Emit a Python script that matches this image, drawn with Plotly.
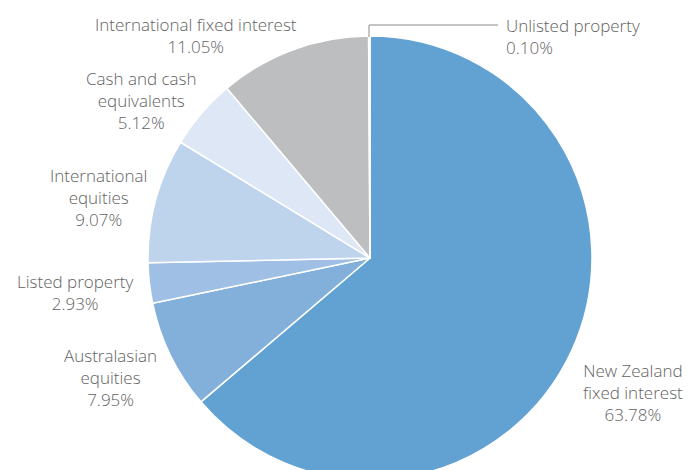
import plotly.graph_objects as go

categories = ["New Zealand fixed interest", "Australasian equities", "Listed property",
              "International equities", "Cash and cash equivalents",
              "International fixed interest", "Unlisted property"]
values = [63.78, 7.95, 2.93, 9.07, 5.12, 11.05, 0.10]
colors = ["#62a2d3", "#83b0db", "#9fc0e4", "#bed3ec", "#dde7f5", "#bdbec0", "#dcdcdc"]

label_text = {
    "New Zealand fixed interest": "New Zealand<br>fixed interest",
    "Australasian equities": "Australasian<br>equities",
    "Listed property": "Listed property",
    "International equities": "International<br>equities",
    "Cash and cash equivalents": "Cash and cash<br>equivalents",
    "International fixed interest": "International fixed interest",
    "Unlisted property": "Unlisted property",
}
# label anchor positions in window pixels (x, y from top), alignment
label_pos = {
    "New Zealand fixed interest": (633, 392, "center"),
    "Australasian equities": (110, 377, "center"),
    "Listed property": (75, 292, "center"),
    "International equities": (98, 198, "center"),
    "Cash and cash equivalents": (141, 101, "center"),
    "International fixed interest": (196, 35, "center"),
    "Unlisted property": (504, 36, "left"),
}

OFF = 8  # page body margin
W, H = 683, 480


def px_x(x):
    return (x - OFF) / W


def px_y(y):
    return 1 - (y - OFF) / H


fig = go.Figure()
fig.add_trace(go.Pie(
    labels=categories, values=values, sort=False, direction="clockwise", rotation=0,
    marker=dict(colors=colors, line=dict(color="white", width=1.5)),
    textinfo="none", hoverinfo="label+percent", showlegend=False,
    domain=dict(x=[px_x(148), px_x(592)], y=[px_y(480), px_y(36)]),
))

font = dict(family="Open Sans", size=17, color="#626262", weight=300)
for cat, v in zip(categories, values):
    px, py, al = label_pos[cat]
    fig.add_annotation(
        x=px_x(px), y=px_y(py), xref="paper", yref="paper",
        text=f"{label_text[cat]}<br>{v:.2f}%", showarrow=False,
        xanchor="left" if al == "left" else "center", yanchor="middle",
        align=al, font=font,
    )

# leader line for the tiny slice
fig.add_shape(type="path", xref="paper", yref="paper",
              path=f"M {px_x(369)},{px_y(37)} L {px_x(369)},{px_y(25)} L {px_x(498)},{px_y(25)}",
              line=dict(color="#8a8a8a", width=1))

fig.update_layout(width=W, height=H, margin=dict(l=0, r=0, t=0, b=0),
                  paper_bgcolor="white", plot_bgcolor="white")
fig.write_html("out.html")
